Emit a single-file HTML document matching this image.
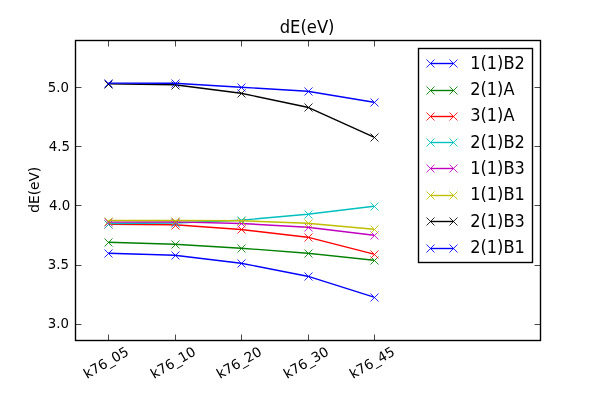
<!DOCTYPE html>
<html><head><meta charset="utf-8"><title>dE(eV)</title>
<style>
html,body{margin:0;padding:0;background:#fff;}
body{width:600px;height:400px;overflow:hidden;}
svg{display:block;will-change:transform;}
text{font-family:"DejaVu Sans","Liberation Sans",sans-serif;fill:#000;}
</style></head><body>
<svg width="600" height="400" viewBox="0 0 600 400">
<rect x="0" y="0" width="600" height="400" fill="#ffffff"/>
<polyline points="108.21,253.20 174.64,255.20 241.07,263.20 307.50,276.20 373.93,297.20" fill="none" stroke="#0000ff" stroke-width="1.39" stroke-linejoin="round" stroke-linecap="butt"/>
<path d="M104.5 249.5L112.5 257.5M104.5 257.5L112.5 249.5" stroke="#0000ff" stroke-width="0.85" fill="none"/>
<path d="M171.5 251.5L179.5 259.5M171.5 259.5L179.5 251.5" stroke="#0000ff" stroke-width="0.85" fill="none"/>
<path d="M237.5 259.5L245.5 267.5M237.5 267.5L245.5 259.5" stroke="#0000ff" stroke-width="0.85" fill="none"/>
<path d="M304.5 272.5L312.5 280.5M304.5 280.5L312.5 272.5" stroke="#0000ff" stroke-width="0.85" fill="none"/>
<path d="M370.5 293.5L378.5 301.5M370.5 301.5L378.5 293.5" stroke="#0000ff" stroke-width="0.85" fill="none"/>
<polyline points="108.21,242.20 174.64,244.20 241.07,248.20 307.50,253.20 373.93,260.20" fill="none" stroke="#008000" stroke-width="1.39" stroke-linejoin="round" stroke-linecap="butt"/>
<path d="M104.5 238.5L112.5 246.5M104.5 246.5L112.5 238.5" stroke="#008000" stroke-width="0.85" fill="none"/>
<path d="M171.5 240.5L179.5 248.5M171.5 248.5L179.5 240.5" stroke="#008000" stroke-width="0.85" fill="none"/>
<path d="M237.5 244.5L245.5 252.5M237.5 252.5L245.5 244.5" stroke="#008000" stroke-width="0.85" fill="none"/>
<path d="M304.5 249.5L312.5 257.5M304.5 257.5L312.5 249.5" stroke="#008000" stroke-width="0.85" fill="none"/>
<path d="M370.5 256.5L378.5 264.5M370.5 264.5L378.5 256.5" stroke="#008000" stroke-width="0.85" fill="none"/>
<polyline points="108.21,224.40 174.64,224.80 241.07,229.45 307.50,237.20 373.93,254.20" fill="none" stroke="#ff0000" stroke-width="1.39" stroke-linejoin="round" stroke-linecap="butt"/>
<path d="M104.5 220.5L112.5 228.5M104.5 228.5L112.5 220.5" stroke="#ff0000" stroke-width="0.85" fill="none"/>
<path d="M171.5 221.5L179.5 229.5M171.5 229.5L179.5 221.5" stroke="#ff0000" stroke-width="0.85" fill="none"/>
<path d="M237.5 225.5L245.5 233.5M237.5 233.5L245.5 225.5" stroke="#ff0000" stroke-width="0.85" fill="none"/>
<path d="M304.5 233.5L312.5 241.5M304.5 241.5L312.5 233.5" stroke="#ff0000" stroke-width="0.85" fill="none"/>
<path d="M370.5 250.5L378.5 258.5M370.5 258.5L378.5 250.5" stroke="#ff0000" stroke-width="0.85" fill="none"/>
<polyline points="108.21,223.50 174.64,223.00 241.07,220.20 307.50,214.20 373.93,206.20" fill="none" stroke="#00bfbf" stroke-width="1.39" stroke-linejoin="round" stroke-linecap="butt"/>
<path d="M104.5 220.5L112.5 228.5M104.5 228.5L112.5 220.5" stroke="#00bfbf" stroke-width="0.85" fill="none"/>
<path d="M171.5 219.5L179.5 227.5M171.5 227.5L179.5 219.5" stroke="#00bfbf" stroke-width="0.85" fill="none"/>
<path d="M237.5 216.5L245.5 224.5M237.5 224.5L245.5 216.5" stroke="#00bfbf" stroke-width="0.85" fill="none"/>
<path d="M304.5 210.5L312.5 218.5M304.5 218.5L312.5 210.5" stroke="#00bfbf" stroke-width="0.85" fill="none"/>
<path d="M370.5 202.5L378.5 210.5M370.5 210.5L378.5 202.5" stroke="#00bfbf" stroke-width="0.85" fill="none"/>
<polyline points="108.21,222.10 174.64,221.90 241.07,223.45 307.50,227.20 373.93,235.20" fill="none" stroke="#bf00bf" stroke-width="1.39" stroke-linejoin="round" stroke-linecap="butt"/>
<path d="M104.5 218.5L112.5 226.5M104.5 226.5L112.5 218.5" stroke="#bf00bf" stroke-width="0.85" fill="none"/>
<path d="M171.5 218.5L179.5 226.5M171.5 226.5L179.5 218.5" stroke="#bf00bf" stroke-width="0.85" fill="none"/>
<path d="M237.5 219.5L245.5 227.5M237.5 227.5L245.5 219.5" stroke="#bf00bf" stroke-width="0.85" fill="none"/>
<path d="M304.5 223.5L312.5 231.5M304.5 231.5L312.5 223.5" stroke="#bf00bf" stroke-width="0.85" fill="none"/>
<path d="M370.5 231.5L378.5 239.5M370.5 239.5L378.5 231.5" stroke="#bf00bf" stroke-width="0.85" fill="none"/>
<polyline points="108.21,220.55 174.64,220.55 241.07,220.70 307.50,223.20 373.93,229.20" fill="none" stroke="#bfbf00" stroke-width="1.39" stroke-linejoin="round" stroke-linecap="butt"/>
<path d="M104.5 217.5L112.5 225.5M104.5 225.5L112.5 217.5" stroke="#bfbf00" stroke-width="0.85" fill="none"/>
<path d="M171.5 217.5L179.5 225.5M171.5 225.5L179.5 217.5" stroke="#bfbf00" stroke-width="0.85" fill="none"/>
<path d="M237.5 217.5L245.5 225.5M237.5 225.5L245.5 217.5" stroke="#bfbf00" stroke-width="0.85" fill="none"/>
<path d="M304.5 219.5L312.5 227.5M304.5 227.5L312.5 219.5" stroke="#bfbf00" stroke-width="0.85" fill="none"/>
<path d="M370.5 225.5L378.5 233.5M370.5 233.5L378.5 225.5" stroke="#bfbf00" stroke-width="0.85" fill="none"/>
<polyline points="108.21,83.90 174.64,84.70 241.07,93.20 307.50,107.20 373.93,137.20" fill="none" stroke="#000000" stroke-width="1.39" stroke-linejoin="round" stroke-linecap="butt"/>
<path d="M104.5 80.5L112.5 88.5M104.5 88.5L112.5 80.5" stroke="#000000" stroke-width="0.85" fill="none"/>
<path d="M171.5 81.5L179.5 89.5M171.5 89.5L179.5 81.5" stroke="#000000" stroke-width="0.85" fill="none"/>
<path d="M237.5 89.5L245.5 97.5M237.5 97.5L245.5 89.5" stroke="#000000" stroke-width="0.85" fill="none"/>
<path d="M304.5 103.5L312.5 111.5M304.5 111.5L312.5 103.5" stroke="#000000" stroke-width="0.85" fill="none"/>
<path d="M370.5 133.5L378.5 141.5M370.5 141.5L378.5 133.5" stroke="#000000" stroke-width="0.85" fill="none"/>
<polyline points="108.21,83.10 174.64,83.30 241.07,87.20 307.50,91.20 373.93,102.20" fill="none" stroke="#0000ff" stroke-width="1.39" stroke-linejoin="round" stroke-linecap="butt"/>
<path d="M104.5 79.5L112.5 87.5M104.5 87.5L112.5 79.5" stroke="#0000ff" stroke-width="0.85" fill="none"/>
<path d="M171.5 79.5L179.5 87.5M171.5 87.5L179.5 79.5" stroke="#0000ff" stroke-width="0.85" fill="none"/>
<path d="M237.5 83.5L245.5 91.5M237.5 91.5L245.5 83.5" stroke="#0000ff" stroke-width="0.85" fill="none"/>
<path d="M304.5 87.5L312.5 95.5M304.5 95.5L312.5 87.5" stroke="#0000ff" stroke-width="0.85" fill="none"/>
<path d="M370.5 98.5L378.5 106.5M370.5 106.5L378.5 98.5" stroke="#0000ff" stroke-width="0.85" fill="none"/>
<rect x="75.5" y="40.5" width="465.0" height="300.0" fill="none" stroke="#000" stroke-width="1.39"/>
<path d="M108.5 340.5V334.5M108.5 40.5V46.5" stroke="#000" stroke-width="0.72"/>
<path d="M175.5 340.5V334.5M175.5 40.5V46.5" stroke="#000" stroke-width="0.72"/>
<path d="M241.5 340.5V334.5M241.5 40.5V46.5" stroke="#000" stroke-width="0.72"/>
<path d="M308.5 340.5V334.5M308.5 40.5V46.5" stroke="#000" stroke-width="0.72"/>
<path d="M374.5 340.5V334.5M374.5 40.5V46.5" stroke="#000" stroke-width="0.72"/>
<path d="M75.5 324.5H81.5M540.5 324.5H534.5" stroke="#000" stroke-width="0.72"/>
<text x="69" y="328" font-size="13.33" text-anchor="end">3.0</text>
<path d="M75.5 265.5H81.5M540.5 265.5H534.5" stroke="#000" stroke-width="0.72"/>
<text x="69" y="269" font-size="13.33" text-anchor="end">3.5</text>
<path d="M75.5 205.5H81.5M540.5 205.5H534.5" stroke="#000" stroke-width="0.72"/>
<text x="70.2" y="210" font-size="13.33" text-anchor="end">4.0</text>
<path d="M75.5 146.5H81.5M540.5 146.5H534.5" stroke="#000" stroke-width="0.72"/>
<text x="70" y="151" font-size="13.33" text-anchor="end">4.5</text>
<path d="M75.5 87.5H81.5M540.5 87.5H534.5" stroke="#000" stroke-width="0.72"/>
<text x="69" y="92" font-size="13.33" text-anchor="end">5.0</text>
<text transform="translate(106.07 362.75) rotate(-30)" x="0" y="4.5" font-size="13.6" text-anchor="middle">k76_05</text>
<text transform="translate(173.07 362.75) rotate(-30)" x="0" y="4.5" font-size="13.6" text-anchor="middle">k76_10</text>
<text transform="translate(239.07 362.75) rotate(-30)" x="0" y="4.5" font-size="13.6" text-anchor="middle">k76_20</text>
<text transform="translate(306.07 362.75) rotate(-30)" x="0" y="4.5" font-size="13.6" text-anchor="middle">k76_30</text>
<text transform="translate(372.07 362.75) rotate(-30)" x="0" y="4.5" font-size="13.6" text-anchor="middle">k76_45</text>
<text transform="translate(38.8 189.8) rotate(-90)" font-size="13.7" text-anchor="middle">dE(eV)</text>
<text transform="translate(307.1 32.8) scale(1 1.07)" font-size="16.4" text-anchor="middle">dE(eV)</text>
<rect x="418.5" y="48.5" width="114.0" height="214.0" fill="#fff" stroke="#000" stroke-width="1.39"/>
<path d="M430.3 63.5H453.7" stroke="#0000ff" stroke-width="1.39"/>
<path d="M426.5 59.5L434.5 67.5M426.5 67.5L434.5 59.5" stroke="#0000ff" stroke-width="0.85" fill="none"/><path d="M449.5 59.5L457.5 67.5M449.5 67.5L457.5 59.5" stroke="#0000ff" stroke-width="0.85" fill="none"/>
<text transform="translate(470.2 68.7) scale(1 1.085)" font-size="16.2">1(1)B2</text>
<path d="M430.3 90.5H453.7" stroke="#008000" stroke-width="1.39"/>
<path d="M426.5 86.5L434.5 94.5M426.5 94.5L434.5 86.5" stroke="#008000" stroke-width="0.85" fill="none"/><path d="M449.5 86.5L457.5 94.5M449.5 94.5L457.5 86.5" stroke="#008000" stroke-width="0.85" fill="none"/>
<text transform="translate(470.2 94.7) scale(1 1.085)" font-size="16.2">2(1)A</text>
<path d="M430.3 116.5H453.7" stroke="#ff0000" stroke-width="1.39"/>
<path d="M426.5 112.5L434.5 120.5M426.5 120.5L434.5 112.5" stroke="#ff0000" stroke-width="0.85" fill="none"/><path d="M449.5 112.5L457.5 120.5M449.5 120.5L457.5 112.5" stroke="#ff0000" stroke-width="0.85" fill="none"/>
<text transform="translate(470.2 120.7) scale(1 1.085)" font-size="16.2">3(1)A</text>
<path d="M430.3 142.5H453.7" stroke="#00bfbf" stroke-width="1.39"/>
<path d="M426.5 138.5L434.5 146.5M426.5 146.5L434.5 138.5" stroke="#00bfbf" stroke-width="0.85" fill="none"/><path d="M449.5 138.5L457.5 146.5M449.5 146.5L457.5 138.5" stroke="#00bfbf" stroke-width="0.85" fill="none"/>
<text transform="translate(470.2 147.7) scale(1 1.085)" font-size="16.2">2(1)B2</text>
<path d="M430.3 168.5H453.7" stroke="#bf00bf" stroke-width="1.39"/>
<path d="M426.5 164.5L434.5 172.5M426.5 172.5L434.5 164.5" stroke="#bf00bf" stroke-width="0.85" fill="none"/><path d="M449.5 164.5L457.5 172.5M449.5 172.5L457.5 164.5" stroke="#bf00bf" stroke-width="0.85" fill="none"/>
<text transform="translate(470.2 173.7) scale(1 1.085)" font-size="16.2">1(1)B3</text>
<path d="M430.3 195.5H453.7" stroke="#bfbf00" stroke-width="1.39"/>
<path d="M426.5 191.5L434.5 199.5M426.5 199.5L434.5 191.5" stroke="#bfbf00" stroke-width="0.85" fill="none"/><path d="M449.5 191.5L457.5 199.5M449.5 199.5L457.5 191.5" stroke="#bfbf00" stroke-width="0.85" fill="none"/>
<text transform="translate(470.2 199.7) scale(1 1.085)" font-size="16.2">1(1)B1</text>
<path d="M430.3 221.5H453.7" stroke="#000000" stroke-width="1.39"/>
<path d="M426.5 217.5L434.5 225.5M426.5 225.5L434.5 217.5" stroke="#000000" stroke-width="0.85" fill="none"/><path d="M449.5 217.5L457.5 225.5M449.5 225.5L457.5 217.5" stroke="#000000" stroke-width="0.85" fill="none"/>
<text transform="translate(470.2 226.7) scale(1 1.085)" font-size="16.2">2(1)B3</text>
<path d="M430.3 248.5H453.7" stroke="#0000ff" stroke-width="1.39"/>
<path d="M426.5 244.5L434.5 252.5M426.5 252.5L434.5 244.5" stroke="#0000ff" stroke-width="0.85" fill="none"/><path d="M449.5 244.5L457.5 252.5M449.5 252.5L457.5 244.5" stroke="#0000ff" stroke-width="0.85" fill="none"/>
<text transform="translate(470.2 252.7) scale(1 1.085)" font-size="16.2">2(1)B1</text>
</svg>
</body></html>
